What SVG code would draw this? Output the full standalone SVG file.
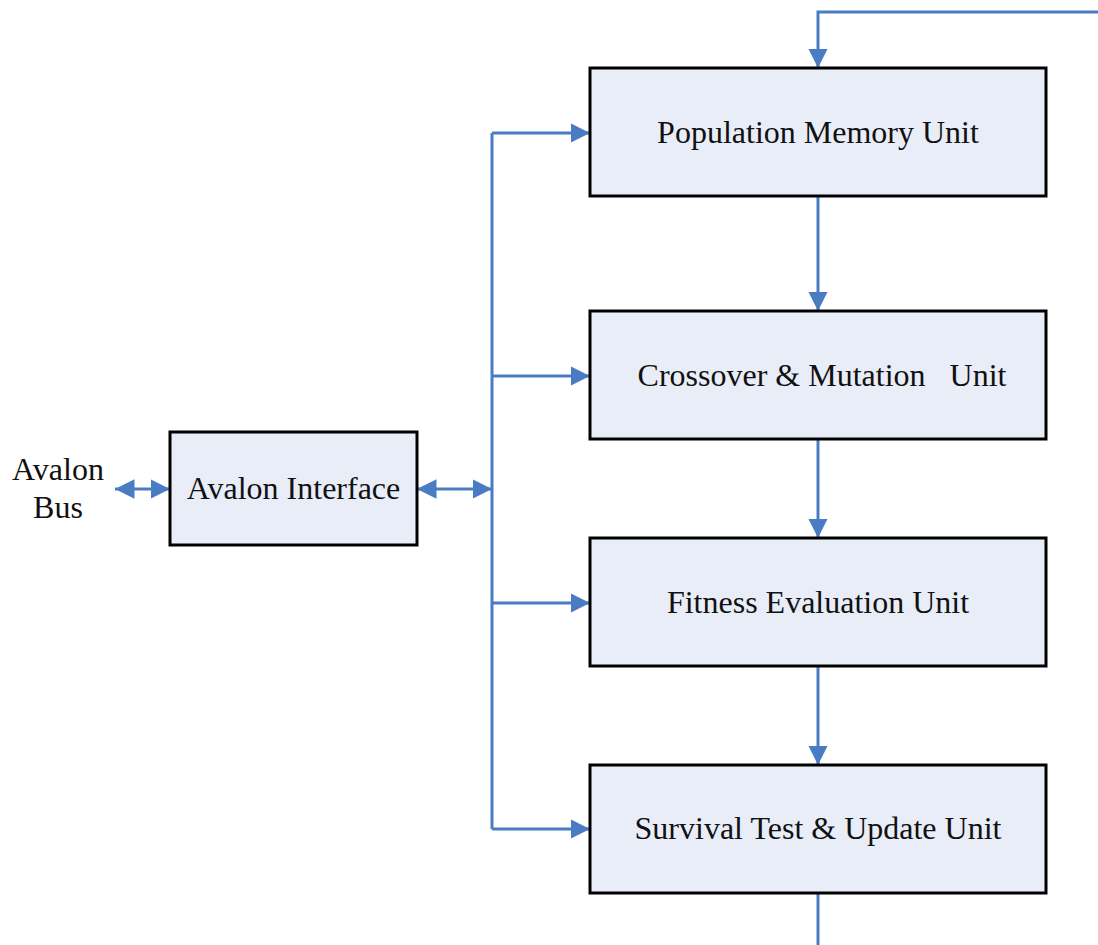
<svg xmlns="http://www.w3.org/2000/svg" width="1098" height="945" viewBox="0 0 1098 945">
  <style>
    .box { fill: #e8edf8; stroke: #000; stroke-width: 3; }
    .lbl { font-family: "Liberation Serif", "Times New Roman", serif; font-size: 32px; fill: #111; text-anchor: middle; }
    .wire { fill: none; stroke: #4a7cc4; stroke-width: 3; }
  </style>
  <defs>
    <marker id="ah" viewBox="0 0 10 10" refX="10" refY="5" markerWidth="6.5" markerHeight="6.5" orient="auto-start-reverse" markerUnits="strokeWidth">
      <path d="M0,0 L10,5 L0,10 z" fill="#4a7cc4"/>
    </marker>
  </defs>
  <rect width="1098" height="945" fill="#fff"/>

  <g id="connectors">
    <!-- feedback loop into the memory unit and out of the survival unit -->
    <path class="wire" d="M1098,12 H818 V68" marker-end="url(#ah)"/>
    <path class="wire" d="M818,893 V945"/>
    <!-- pipeline between units -->
    <path class="wire" d="M818,196 V311" marker-end="url(#ah)"/>
    <path class="wire" d="M818,439 V538" marker-end="url(#ah)"/>
    <path class="wire" d="M818,666 V765" marker-end="url(#ah)"/>
    <!-- internal bus -->
    <path class="wire" d="M492,133 V829"/>
    <path class="wire" d="M492,133 H590" marker-end="url(#ah)"/>
    <path class="wire" d="M492,376 H590" marker-end="url(#ah)"/>
    <path class="wire" d="M492,603 H590" marker-end="url(#ah)"/>
    <path class="wire" d="M492,829 H590" marker-end="url(#ah)"/>
    <!-- bidirectional links -->
    <path class="wire" d="M417,489 H492" marker-start="url(#ah)" marker-end="url(#ah)"/>
    <path class="wire" d="M115,489 H170" marker-start="url(#ah)" marker-end="url(#ah)"/>
  </g>

  <g id="avalon-bus">
    <text class="lbl" x="58" y="480">Avalon</text>
    <text class="lbl" x="58" y="518">Bus</text>
  </g>

  <g id="avalon-interface">
    <rect class="box" x="170" y="432" width="247" height="113"/>
    <text class="lbl" x="293.5" y="499">Avalon Interface</text>
  </g>

  <g id="population-memory">
    <rect class="box" x="590" y="68" width="456" height="128"/>
    <text class="lbl" x="818" y="143">Population Memory Unit</text>
  </g>

  <g id="crossover-mutation">
    <rect class="box" x="590" y="311" width="456" height="128"/>
    <text class="lbl" x="822" y="386" xml:space="preserve">Crossover &amp; Mutation   Unit</text>
  </g>

  <g id="fitness-evaluation">
    <rect class="box" x="590" y="538" width="456" height="128"/>
    <text class="lbl" x="818" y="613">Fitness Evaluation Unit</text>
  </g>

  <g id="survival-update">
    <rect class="box" x="590" y="765" width="456" height="128"/>
    <text class="lbl" x="818" y="839">Survival Test &amp; Update Unit</text>
  </g>
</svg>
